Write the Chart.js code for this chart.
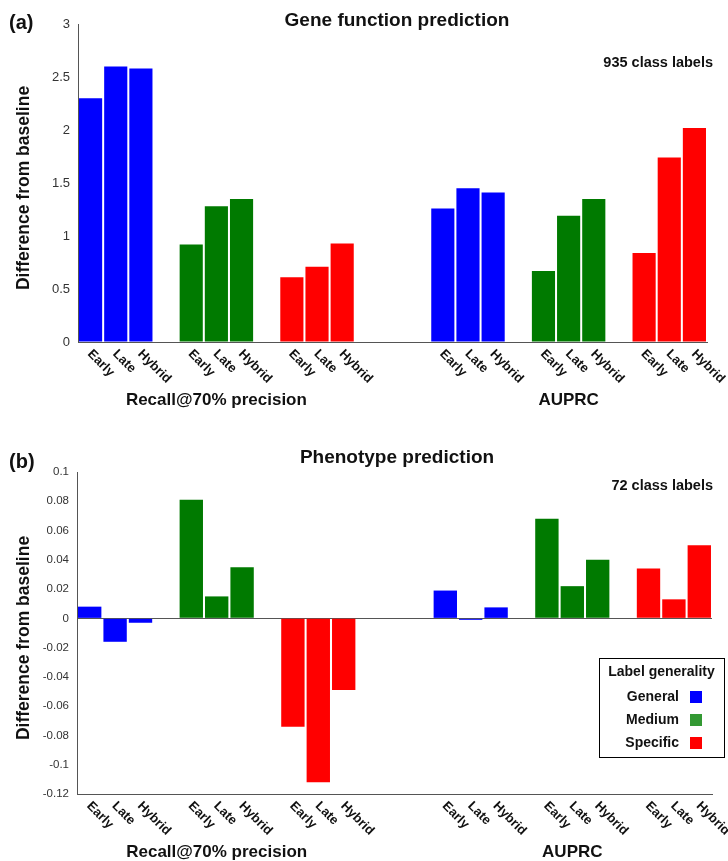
<!DOCTYPE html>
<html>
<head>
<meta charset="utf-8">
<script src="https://cdn.jsdelivr.net/npm/chart.js@4.4.0/dist/chart.umd.min.js"></script>
<style>
  html, body { margin: 0; padding: 0; background: #fff; }
  #wrap { position: relative; width: 728px; height: 861px; }
  .panel { position: absolute; left: 0; width: 728px; }
</style>
</head>
<body>
<div id="wrap">
  <div class="panel" style="top:0;height:430px"><canvas id="geneChart"></canvas></div>
  <div class="panel" style="top:430px;height:431px"><canvas id="phenoChart"></canvas></div>
</div>
<script>
// data
const methods = ['Early', 'Late', 'Hybrid'];
const generality = ['General', 'Medium', 'Specific'];
const metrics = ['Recall@70% precision', 'AUPRC'];

// gene function prediction (935 class labels), General / Medium / Specific x Early / Late / Hybrid
const geneRecall = [2.30, 2.60, 2.58, 0.92, 1.28, 1.35, 0.61, 0.71, 0.93];
const geneAuprc = [1.26, 1.45, 1.41, 0.67, 1.19, 1.35, 0.84, 1.74, 2.02];

// phenotype prediction (72 class labels)
const phenoRecall = [0.008, -0.016, -0.003, 0.081, 0.015, 0.035, -0.074, -0.112, -0.049];
const phenoAuprc = [0.019, -0.001, 0.0075, 0.068, 0.022, 0.040, 0.034, 0.013, 0.050];

const barColors = ['#0000ff', '#007a00', '#ff0000'];
const swatchColors = ['#0000ff', '#339933', '#ff0000'];

const FONT = '"Liberation Sans", Arial, Helvetica, sans-serif';

// lay the bars out in slots: 3 bars, 1 gap between generality groups, 3 gaps between metrics
function buildSlots(seriesList) {
  const labels = [], values = [], colors = [], centres = [];
  seriesList.forEach((series, m) => {
    if (m > 0) { for (let k = 0; k < 3; k++) { labels.push(''); values.push(null); colors.push('transparent'); } }
    const start = labels.length;
    generality.forEach((g, gi) => {
      if (gi > 0) { labels.push(''); values.push(null); colors.push('transparent'); }
      methods.forEach((meth, mi) => {
        labels.push(meth);
        values.push(series[gi * 3 + mi]);
        colors.push(barColors[gi]);
      });
    });
    centres.push((start + labels.length - 1) / 2);
  });
  return { labels, values, colors, centres };
}

// draws titles, rotated category labels, metric names and the legend
const annotate = {
  id: 'annotate',
  afterDraw(chart, args, opts) {
    const ctx = chart.ctx;
    const x = chart.scales.x;
    const area = chart.chartArea;
    ctx.save();
    ctx.fillStyle = '#111';

    ctx.font = 'bold 20px ' + FONT;
    ctx.textAlign = 'left';
    ctx.textBaseline = 'middle';
    ctx.fillText(opts.panel, 9, opts.panelY);

    ctx.font = 'bold 19px ' + FONT;
    ctx.textAlign = 'center';
    ctx.fillText(opts.title, 397, opts.titleY);

    ctx.font = 'bold 14.5px ' + FONT;
    ctx.textAlign = 'right';
    ctx.fillText(opts.note, 713, opts.noteY);

    // y axis title
    ctx.save();
    ctx.translate(24, (area.top + area.bottom) / 2 + 5);
    ctx.rotate(-Math.PI / 2);
    ctx.font = 'bold 17.5px ' + FONT;
    ctx.textAlign = 'center';
    ctx.fillText('Difference from baseline', 0, 0);
    ctx.restore();

    // category labels, rotated 45 degrees clockwise
    ctx.font = 'bold 13px ' + FONT;
    ctx.textAlign = 'left';
    chart.data.labels.forEach((lab, i) => {
      if (!lab) return;
      const px = x.getPixelForValue(i);
      ctx.save();
      ctx.translate(px - 1, area.bottom + 10);
      ctx.rotate(Math.PI / 4);
      ctx.fillText(lab, 0, 0);
      ctx.restore();
    });

    ctx.font = 'bold 17px ' + FONT;
    ctx.textAlign = 'center';
    metrics.forEach((m, k) => {
      ctx.fillText(m, x.getPixelForValue(opts.centres[k]), area.bottom + 58);
    });

    if (opts.legend) {
      const L = opts.legend;
      ctx.strokeStyle = '#000';
      ctx.lineWidth = 1;
      ctx.strokeRect(L.x + 0.5, L.y + 0.5, L.w, L.h);
      ctx.font = 'bold 14px ' + FONT;
      ctx.textAlign = 'center';
      ctx.fillText('Label generality', L.x + L.w / 2, L.y + 14);
      generality.forEach((g, gi) => {
        const ty = L.y + 39 + gi * 23;
        ctx.fillStyle = '#111';
        ctx.textAlign = 'right';
        ctx.fillText(g, L.x + 80, ty);
        ctx.fillStyle = swatchColors[gi];
        ctx.fillRect(L.x + 91, ty - 6, 12, 12);
      });
    }
    ctx.restore();
  }
};

function makeChart(id, slots, yOpts, layout, extra) {
  return new Chart(document.getElementById(id), {
    type: 'bar',
    data: {
      labels: slots.labels,
      datasets: [{
        data: slots.values,
        backgroundColor: slots.colors,
        borderWidth: 0,
        barPercentage: 0.92,
        categoryPercentage: 1.0
      }]
    },
    options: {
      responsive: true,
      maintainAspectRatio: false,
      animation: false,
      layout: { padding: { left: 0, top: layout.top, right: layout.right, bottom: 0 } },
      scales: {
        x: {
          grid: { display: false },
          border: { display: true, color: '#555' },
          ticks: { display: false },
          afterFit: s => { s.height = layout.xHeight; }
        },
        y: {
          min: yOpts.min,
          max: yOpts.max,
          grid: {
            drawTicks: false,
            color: c => Math.abs(c.tick.value) < 1e-9 ? '#555' : 'rgba(0,0,0,0)'
          },
          border: { display: true, color: '#555' },
          ticks: {
            stepSize: yOpts.step,
            padding: 8,
            color: '#333',
            font: { family: FONT, size: yOpts.fontSize },
            callback: v => parseFloat(Number(v).toFixed(3)).toString()
          },
          afterFit: s => { s.width = layout.yWidth; }
        }
      },
      plugins: {
        legend: { display: false },
        tooltip: { enabled: false },
        annotate: Object.assign({ centres: slots.centres }, extra)
      }
    },
    plugins: [annotate]
  });
}

const geneSlots = buildSlots([geneRecall, geneAuprc]);
const phenoSlots = buildSlots([phenoRecall, phenoAuprc]);

makeChart('geneChart', geneSlots,
  { min: 0, max: 3, step: 0.5, fontSize: 13 },
  { top: 24, right: 21, xHeight: 88, yWidth: 78 },
  { panel: '(a)', panelY: 23, title: 'Gene function prediction', titleY: 21, note: '935 class labels', noteY: 63 });

makeChart('phenoChart', phenoSlots,
  { min: -0.12, max: 0.1, step: 0.02, fontSize: 11.5 },
  { top: 42, right: 16, xHeight: 67, yWidth: 77 },
  { panel: '(b)', panelY: 32, title: 'Phenotype prediction', titleY: 28, note: '72 class labels', noteY: 56,
    legend: { x: 599, y: 228, w: 125, h: 99 } });
</script>
</body>
</html>
